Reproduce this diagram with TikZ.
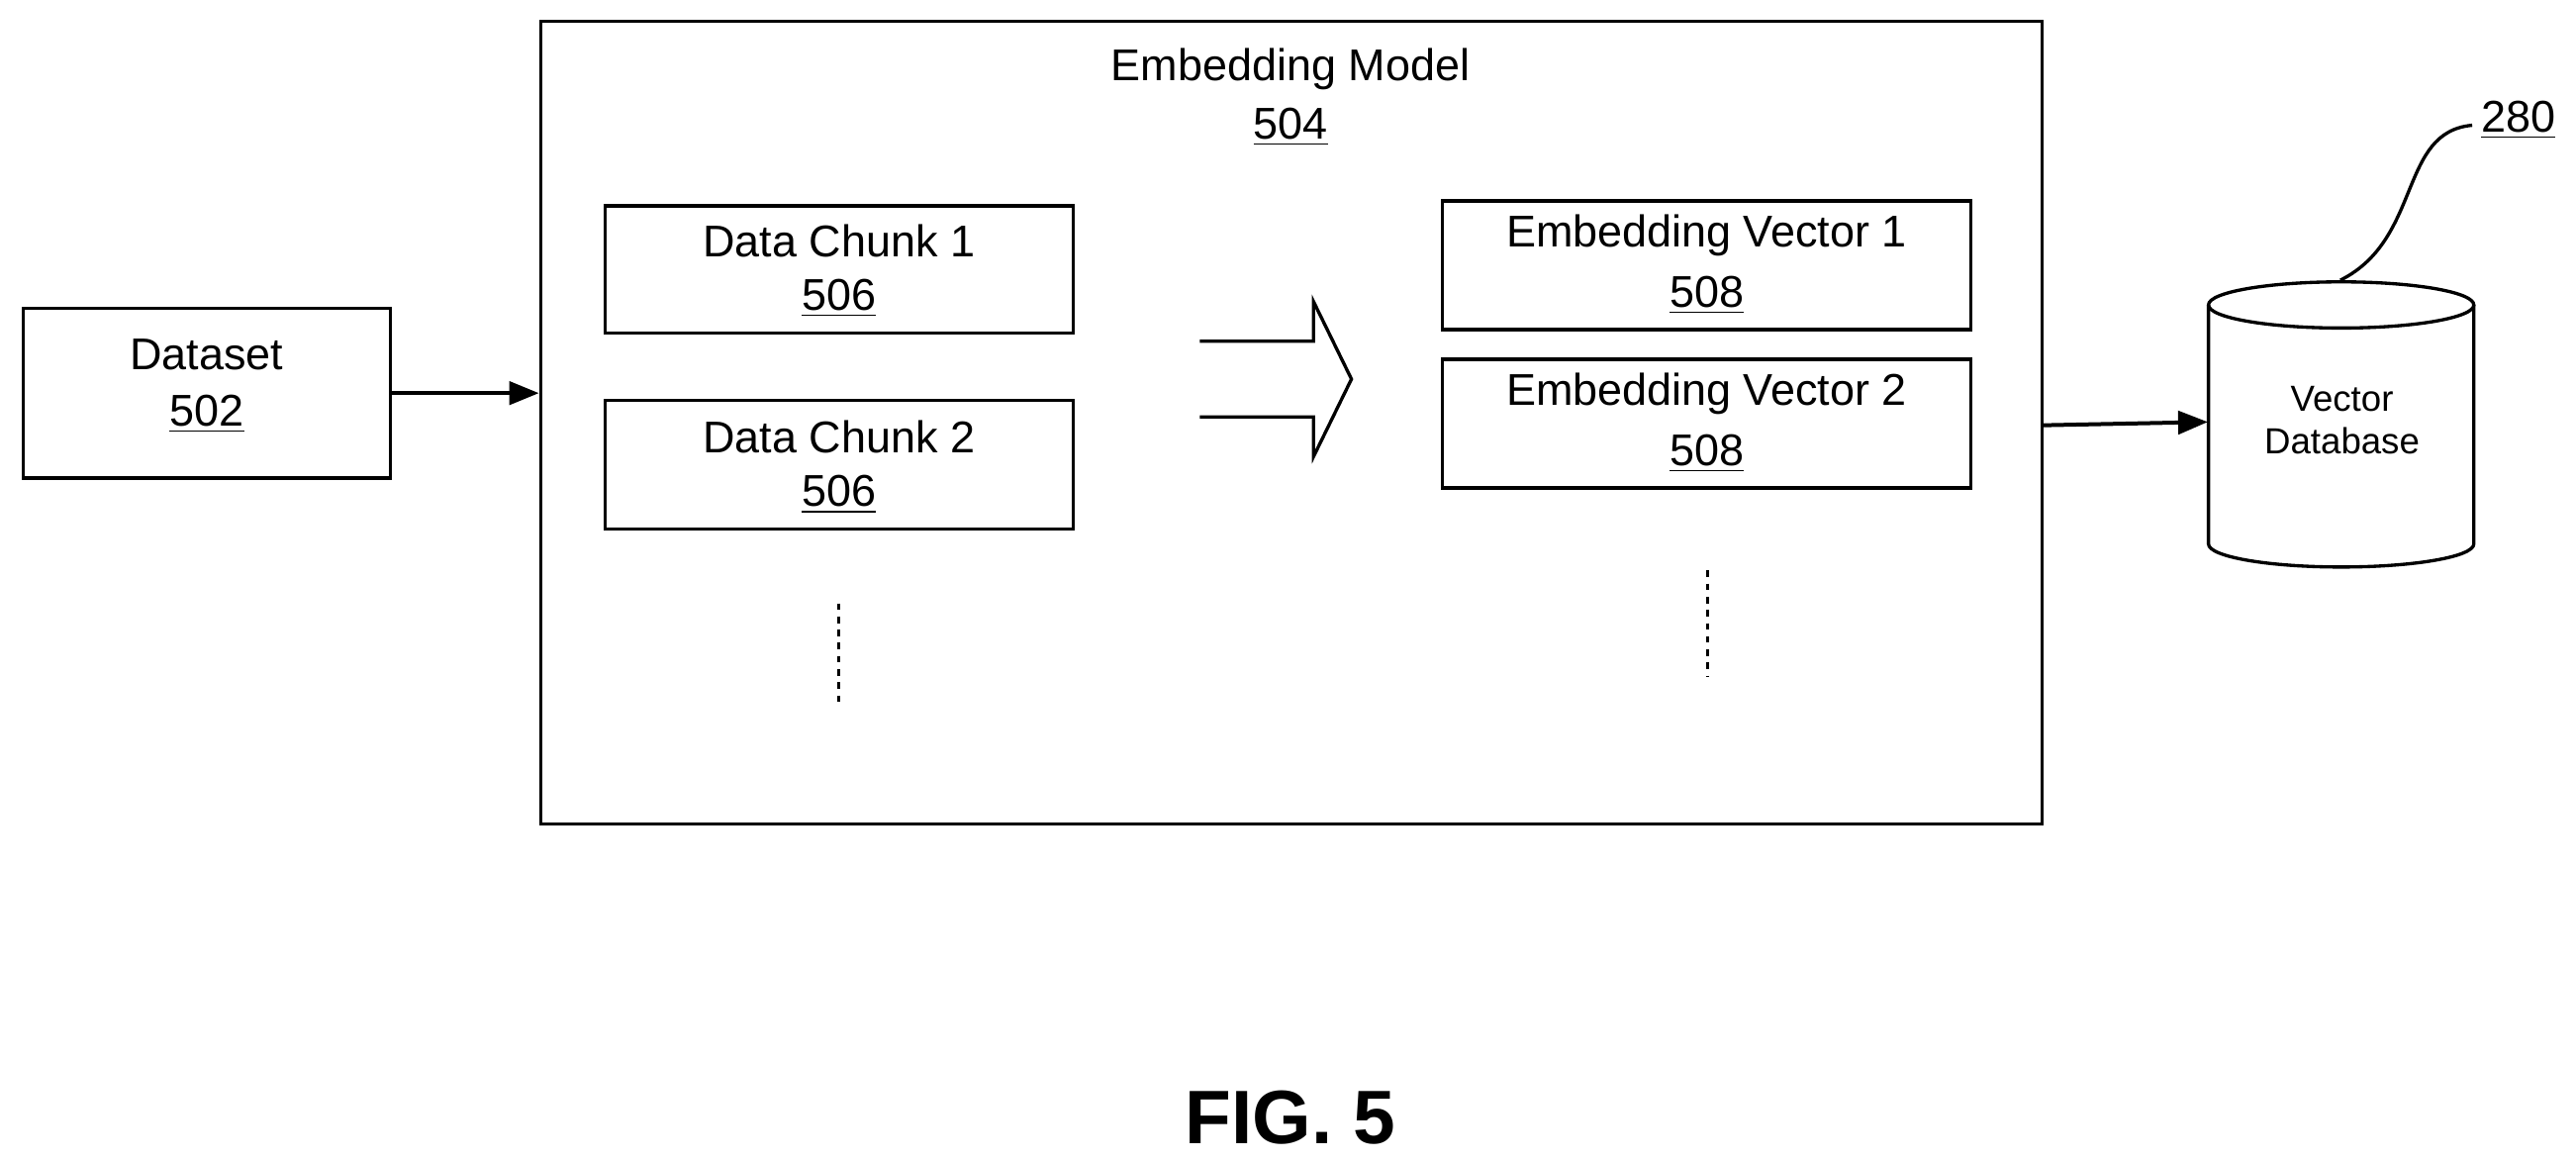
\documentclass[tikz,border=0pt]{standalone}
\usepackage{fontspec}
\setmainfont{Liberation Sans}
\usetikzlibrary{arrows.meta}
\begin{document}
\begin{tikzpicture}[x=0.5pt,y=-0.5pt,
  box/.style={draw,line width=1pt,inner sep=0pt},
  lbl/.style={font=\fontsize{13.5}{16}\selectfont,align=center},
  conn/.style={line width=1.2pt,-{Triangle[length=9pt,width=7pt]}}]
\useasboundingbox (0,0) rectangle (1563,704);
\node[box,minimum width=111.5pt,minimum height=51.5pt] (ds) at (125.5,238.5) {};
\node[lbl] at (125.5,215) {Dataset};
\node[lbl] at (125.5,251) {\underline{502}};
\node[box,minimum width=455.5pt,minimum height=243.5pt] (em) at (783.5,256.5) {};
\node[lbl] at (783,42) {Embedding Model};
\node[lbl] at (783,77) {\underline{504}};
\node[box,minimum width=142pt,minimum height=38.5pt] (c1) at (509,163.5) {};
\node[lbl] at (509,146) {Data Chunk 1};
\node[lbl] at (509,181) {\underline{506}};
\node[box,minimum width=142pt,minimum height=39pt] (c2) at (509,282) {};
\node[lbl] at (509,265) {Data Chunk 2};
\node[lbl] at (509,300) {\underline{506}};
\node[box,minimum width=160.5pt,minimum height=39pt] (v1) at (1035.5,161) {};
\node[lbl] at (1035.5,143) {Embedding Vector 1};
\node[lbl] at (1035.5,179) {\underline{508}};
\node[box,minimum width=160.5pt,minimum height=39pt] (v2) at (1035.5,257) {};
\node[lbl] at (1035.5,239) {Embedding Vector 2};
\node[lbl] at (1035.5,275) {\underline{508}};
\draw[line width=1pt,dash pattern=on 2pt off 2pt] (509,366) -- (509,426);
\draw[line width=1pt,dash pattern=on 2pt off 2pt] (1036,346) -- (1036,411);
\draw[line width=1pt,line join=miter] (728,207) -- (797,207) -- (797,183) -- (820,230) -- (797,277) -- (797,253) -- (728,253);
% cylinder
\node[inner sep=0pt,minimum width=80.5pt,minimum height=80pt] (db) at (1420.5,257) {};
\draw[line width=1pt] (1340,185) -- (1340,330) arc[start angle=180,end angle=360,x radius=40.25pt,y radius=7pt] -- (1501,185);
\draw[line width=1pt] (1420.5,185) ellipse[x radius=40.25pt,y radius=7pt];
\node[font=\fontsize{11}{13}\selectfont,align=center] at (1421,255) {Vector\\Database};
\draw[conn] (ds.east) -- (em.west|-ds.east);
\draw[conn] (em.east|-0,258) -- (db.west|-0,256);
\node[lbl] (n280) at (1528,73) {\underline{280}};
\draw[line width=1pt] (1420,170) .. controls (1470,145) and (1455,80) .. (1500,76);
\node[font=\fontsize{23}{27}\selectfont\bfseries] at (783,678) {FIG. 5};
\end{tikzpicture}
\end{document}
